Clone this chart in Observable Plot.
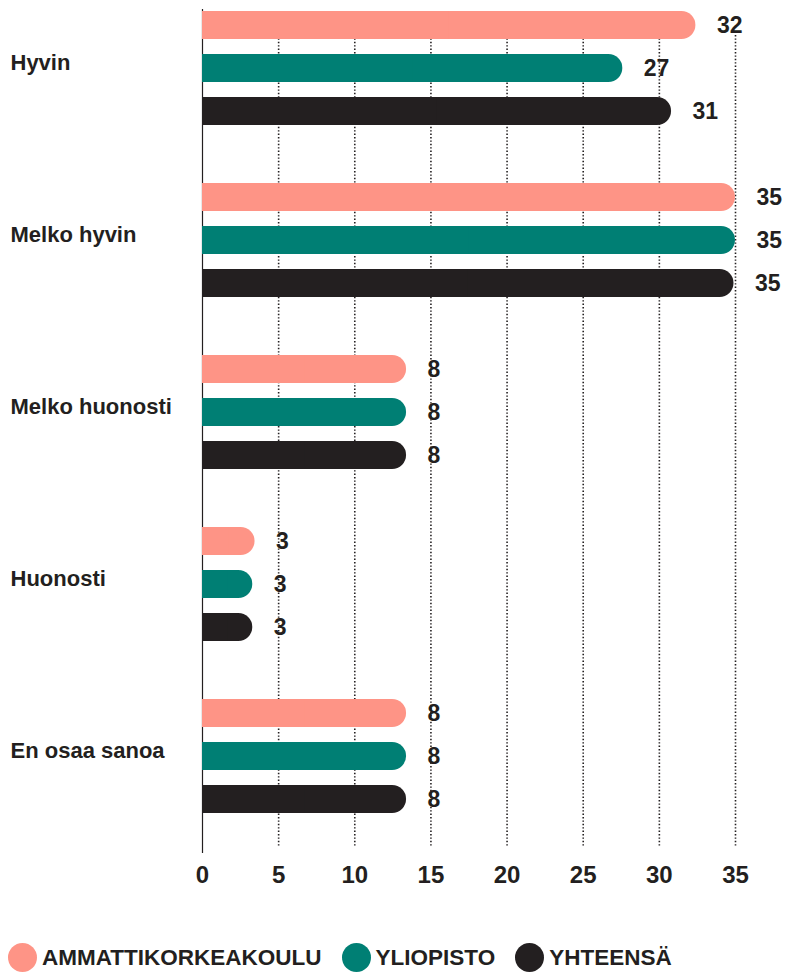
<!DOCTYPE html>
<html>
<head>
<meta charset="utf-8">
<script src="https://cdn.jsdelivr.net/npm/d3@7"></script>
<script src="https://cdn.jsdelivr.net/npm/@observablehq/plot@0.6"></script>
<style>
  body { margin: 0; background: #fff; font-family: "Liberation Sans", Arial, sans-serif; }
  #chart svg { display: block; }
  .legend { display: flex; align-items: center; margin-top: 43px; padding-left: 8px; height: 29px; }
  .legend .item { display: flex; align-items: center; margin-right: 20px; }
  .legend .dot { width: 29px; height: 29px; border-radius: 50%; margin-right: 5px; }
  .legend .lbl { font-size: 22.5px; font-weight: 700; color: #231f20; }
</style>
</head>
<body>
<div id="chart"></div>
<div class="legend" id="legend"></div>
<script>
// Categories (top to bottom)
const categories = ["Hyvin", "Melko hyvin", "Melko huonosti", "Huonosti", "En osaa sanoa"];
// Series
const seriesNames = ["AMMATTIKORKEAKOULU", "YLIOPISTO", "YHTEENSÄ"];
const seriesColors = ["#fe9486", "#007f74", "#231f20"];
// Printed value labels per series
const ammattikorkeakoulu = [32, 35, 8, 3, 8];
const yliopisto = [27, 35, 8, 3, 8];
const yhteensa = [31, 35, 8, 3, 8];
// Bar lengths as drawn in the picture (read against the axis)
const ammattikorkeakouluBar = [32.4, 35.0, 13.4, 3.45, 13.4];
const yliopistoBar = [27.6, 35.0, 13.4, 3.3, 13.4];
const yhteensaBar = [30.8, 34.9, 13.4, 3.3, 13.4];
// Axis ticks
const xTicks = [0, 5, 10, 15, 20, 25, 30, 35];

const labelSets = [ammattikorkeakoulu, yliopisto, yhteensa];
const barSets = [ammattikorkeakouluBar, yliopistoBar, yhteensaBar];

const data = [];
categories.forEach((c, i) => {
  seriesNames.forEach((s, j) => {
    data.push({cat: c, series: s, key: c + "|" + s, len: barSets[j][i], label: labelSets[j][i]});
  });
});

const yDomain = [];
categories.forEach((c, i) => {
  seriesNames.forEach(s => yDomain.push(c + "|" + s));
  if (i < categories.length - 1) yDomain.push(c + "|gap");
});

const ink = "#231f20";
const font = "Liberation Sans, Arial, sans-serif";

const chart = Plot.plot({
  width: 790,
  height: 900,
  marginLeft: 202,
  marginRight: 55,
  marginTop: 0,
  marginBottom: 54,
  style: {fontFamily: font, color: ink, background: "#fff"},
  x: {domain: [0, 35], axis: null},
  y: {domain: yDomain, paddingInner: 0.35, paddingOuter: 0.455, align: 0.254, axis: null},
  color: {domain: seriesNames, range: seriesColors},
  marks: [
    Plot.ruleX(xTicks.filter(t => t > 0), {stroke: ink, strokeWidth: 1.6, strokeDasharray: "1.4,2", insetTop: 35}),
    Plot.ruleX([0], {stroke: ink, strokeWidth: 1.2, insetTop: 9, insetBottom: -7}),
    Plot.barX(data, {x: "len", y: "key", fill: "series", rx: 14, ry: 14}),
    Plot.barX(data, {x: d => d.len / 2, y: "key", fill: "series"}),
    Plot.text(data, {x: "len", y: "key", text: d => String(d.label), dx: 21, textAnchor: "start", fontSize: 23, fontWeight: 700, fill: ink}),
    Plot.text(categories, {x: () => 0, y: d => d + "|" + seriesNames[1], text: d => d, dx: -192, dy: -6, textAnchor: "start", fontSize: 22, fontWeight: 700, fill: ink}),
    Plot.axisX(xTicks, {tickSize: 0, tickPadding: 19, fontSize: 24, fontWeight: 700, fill: ink, label: null})
  ]
});
document.getElementById("chart").appendChild(chart);

const legend = document.getElementById("legend");
seriesNames.forEach((s, j) => {
  const item = document.createElement("div");
  item.className = "item";
  const dot = document.createElement("div");
  dot.className = "dot";
  dot.style.background = seriesColors[j];
  const lbl = document.createElement("span");
  lbl.className = "lbl";
  lbl.textContent = s;
  item.appendChild(dot);
  item.appendChild(lbl);
  legend.appendChild(item);
});
</script>
</body>
</html>
